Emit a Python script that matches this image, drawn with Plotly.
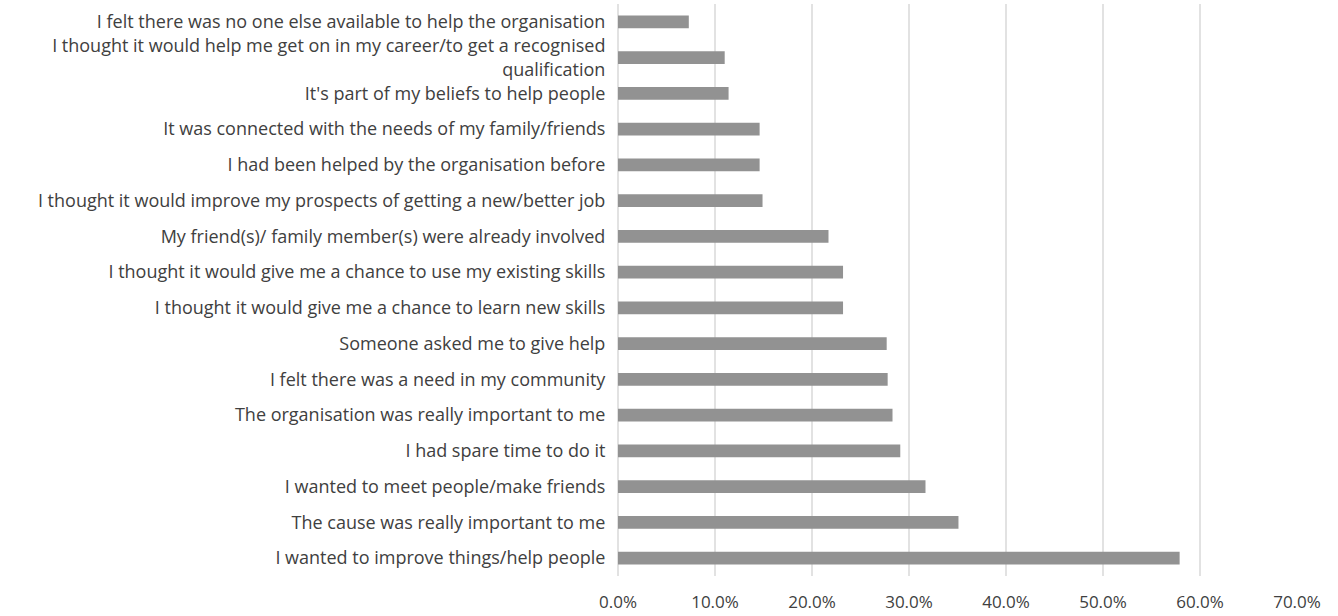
import plotly.graph_objects as go

# Reasons given for getting involved, listed top to bottom
reasons = [
    "I felt there was no one else available to help the organisation",
    "I thought it would help me get on in my career/to get a recognised<br>qualification",
    "It's part of my beliefs to help people",
    "It was connected with the needs of my family/friends",
    "I had been helped by the organisation before",
    "I thought it would improve my prospects of getting a new/better job",
    "My friend(s)/ family member(s) were already involved",
    "I thought it would give me a chance to use my existing skills",
    "I thought it would give me a chance to learn new skills",
    "Someone asked me to give help",
    "I felt there was a need in my community",
    "The organisation was really important to me",
    "I had spare time to do it",
    "I wanted to meet people/make friends",
    "The cause was really important to me",
    "I wanted to improve things/help people",
]

# Share of respondents (fraction)
shares = [
    0.073, 0.110, 0.114, 0.146, 0.146, 0.149, 0.217, 0.232,
    0.232, 0.277, 0.278, 0.283, 0.291, 0.317, 0.351, 0.579,
]

x_ticks = [0, 0.1, 0.2, 0.3, 0.4, 0.5, 0.6, 0.7]

fig = go.Figure(
    go.Bar(
        x=shares,
        y=reasons,
        orientation="h",
        marker=dict(color="#929292", line=dict(width=0)),
        hoverinfo="x+y",
    )
)

fig.update_layout(
    width=1338,
    height=616,
    margin=dict(l=618, r=41, t=4, b=40),
    paper_bgcolor="white",
    plot_bgcolor="white",
    bargap=0.65,
    showlegend=False,
    font=dict(family="Open Sans, Noto Sans, sans-serif", size=18, color="#404040"),
)

fig.update_xaxes(
    range=[0, 0.7],
    tickvals=x_ticks,
    tickformat=".1%",
    showgrid=True,
    gridcolor="#e2e2e2",
    gridwidth=1.5,
    zeroline=True,
    zerolinecolor="#e2e2e2",
    zerolinewidth=1.5,
    showline=False,
    ticks="outside",
    ticklen=11,
    tickcolor="rgba(0,0,0,0)",
    tickfont=dict(size=17, color="#404040"),
    automargin=False,
    fixedrange=True,
)

fig.update_yaxes(
    autorange="reversed",
    showgrid=False,
    showline=False,
    ticks="outside",
    ticklen=8,
    tickcolor="rgba(0,0,0,0)",
    tickfont=dict(size=18, color="#404040"),
    automargin=False,
    fixedrange=True,
)

fig.write_html("out.html", config={"displayModeBar": False})
